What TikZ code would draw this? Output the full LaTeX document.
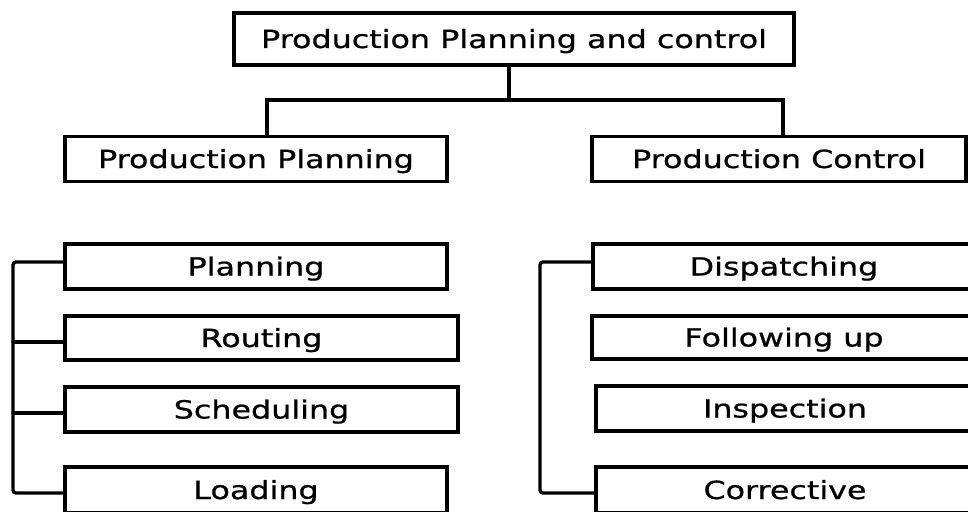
\documentclass[tikz,border=0pt]{standalone}
\usepackage{fontspec}
\setmainfont{DejaVu Sans}[FakeStretch=1.27,FakeBold=0.8]
\begin{document}
\begin{tikzpicture}[x=1pt,y=-1pt,
  box/.style={draw=black, line width=3.4pt, inner sep=0pt, text height=18pt, text depth=0pt,
    font=\fontsize{25}{30}\selectfont},
  conn/.style={draw=black, line width=3.4pt, line cap=round, rounded corners=3pt}]
\useasboundingbox (0,0) rectangle (968,511);
\clip (0,0) rectangle (968,511);
% top
\node[box, minimum width=560pt, minimum height=52pt] (top) at (514,39) {Production Planning and control};
\node[box, minimum width=382pt, minimum height=45pt] (pp) at (256,159) {Production Planning};
\node[box, minimum width=374pt, minimum height=45pt] (pc) at (779,159) {Production Control};
% left column
\node[box, minimum width=382pt, minimum height=45pt] (planning) at (256,266.5) {Planning};
\node[box, minimum width=393pt, minimum height=44pt] (routing) at (261.5,338) {Routing};
\node[box, minimum width=393pt, minimum height=45pt] (scheduling) at (261.5,409.5) {Scheduling};
\node[box, minimum width=382pt, minimum height=46pt] (loading) at (256,490) {Loading};
% right column
\node[box, minimum width=382pt, minimum height=45pt] (dispatching) at (784,266.5) {Dispatching};
\node[box, minimum width=384pt, minimum height=43pt] (following) at (784,337.5) {Following up};
\node[box, minimum width=378pt, minimum height=45pt] (inspection) at (785,408.5) {Inspection};
\node[box, minimum width=378pt, minimum height=46pt] (corrective) at (785,490) {Corrective};
% top connectors
\coordinate (jm) at (509,100);
\coordinate (jl) at (267,100);
\coordinate (jr) at (783,100);
\draw[conn] (top.south -| jm) -- (jm);
\draw[conn, rounded corners=0pt] (pp.north -| jl) -- (jl) -- (jr) -- (pc.north -| jr);
% left bracket
\coordinate (lb) at (13,493);
\draw[conn] (planning.west |- 0,262) -| (lb) -- (loading.west |- lb);
\draw[conn] (13,342) -- (routing.west |- 0,342);
\draw[conn] (13,413) -- (scheduling.west |- 0,413);
% right bracket
\coordinate (rb) at (540,493);
\draw[conn] (dispatching.west |- 0,262) -| (rb) -- (corrective.west |- rb);
\end{tikzpicture}
\end{document}
